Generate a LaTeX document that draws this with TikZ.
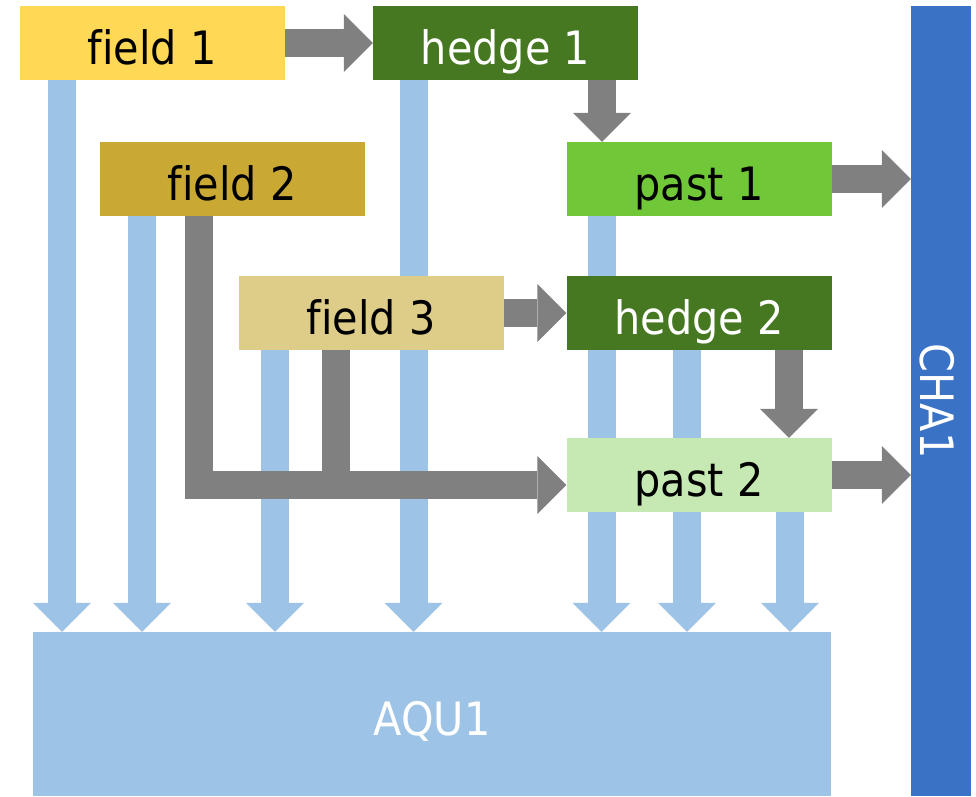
\documentclass[tikz,border=0pt]{standalone}
\usepackage{fontspec}
\setmainfont{DejaVu Sans}[FakeStretch=0.9,Ligatures=NoCommon]
\usetikzlibrary{arrows.meta,backgrounds}

\definecolor{fieldone}{HTML}{FFD956}
\definecolor{fieldtwo}{HTML}{C9A934}
\definecolor{fieldthree}{HTML}{DECD88}
\definecolor{hedgegreen}{HTML}{467821}
\definecolor{pastone}{HTML}{70C737}
\definecolor{pasttwo}{HTML}{C6E8B3}
\definecolor{aqublue}{HTML}{9DC3E6}
\definecolor{chablue}{HTML}{3A72C6}
\definecolor{flowgray}{HTML}{808080}

\begin{document}
\begin{tikzpicture}[x=1pt,y=-1pt,
  box/.style={rectangle,inner sep=0pt,minimum width=265pt,minimum height=74pt,
    text height=42pt,text depth=0pt,font=\fontsize{46}{50}\selectfont},
  barrow/.style={line width=28pt,color=aqublue,
    -{Triangle[width=58pt,length=29pt,line width=0pt]}},
  garrow/.style={line width=28pt,color=flowgray,line join=miter,
    -{Triangle[width=58pt,length=29pt,line width=0pt]}}]

\useasboundingbox (0,0) rectangle (976,796);

\node[box,fill=fieldone] (f1) at (152,43) {field 1};
\node[box,fill=hedgegreen,text=white] (h1) at (505.5,43) {hedge 1};
\node[box,fill=fieldtwo] (f2) at (232,179) {field 2};
\node[box,fill=pastone] (p1) at (699,179) {past 1};
\node[box,fill=fieldthree] (f3) at (371,313) {field 3};
\node[box,fill=hedgegreen,text=white] (h2) at (699,313) {hedge 2};
\node[box,fill=pasttwo] (p2) at (699,475) {past 2};
\node[box,fill=aqublue,text=white,minimum width=798pt,minimum height=164pt] (aqu) at (432,714) {AQU1};
\node[box,fill=chablue,text=white,minimum width=790pt,minimum height=60pt,rotate=-90] (cha) at (941,401) {CHA1};

\coordinate (join) at ([yshift=-10pt]p2.west);

% blue arrows into AQU1, behind the boxes
\begin{scope}[on background layer]
\draw[barrow] ([xshift=-90pt]f1.south) -- ([xshift=-90pt]f1.south |- aqu.north);
\draw[barrow] ([xshift=-90pt]f2.south) -- ([xshift=-90pt]f2.south |- aqu.north);
\draw[barrow] ([xshift=-96pt]f3.south) -- ([xshift=-96pt]f3.south |- aqu.north);
\draw[barrow] ([xshift=-92pt]h1.south) -- ([xshift=-92pt]h1.south |- aqu.north);
\draw[barrow] ([xshift=-97.5pt]p1.south) -- ([xshift=-97.5pt]p1.south |- aqu.north);
\draw[barrow] ([xshift=-12pt]h2.south) -- ([xshift=-12pt]h2.south |- aqu.north);
\draw[barrow] ([xshift=91pt]p2.south) -- ([xshift=91pt]p2.south |- aqu.north);
\end{scope}

% gray arrows
\draw[garrow] (f1.east) -- (h1.west);
\draw[garrow] ([xshift=96.5pt]h1.south) -- ([xshift=96.5pt]h1.south |- p1.north);
\draw[garrow] (p1.east) -- (p1.east -| cha.south);
\draw[garrow] (f3.east) -- (h2.west);
\draw[garrow] ([xshift=90pt]h2.south) -- ([xshift=90pt]h2.south |- p2.north);
\draw[garrow] (p2.east) -- (p2.east -| cha.south);
\draw[garrow] ([xshift=-33pt]f2.south) |- (join);
\draw[line width=28pt,color=flowgray] ([xshift=-35pt]f3.south) -- ([xshift=-35pt]f3.south |- join);

\end{tikzpicture}
\end{document}
